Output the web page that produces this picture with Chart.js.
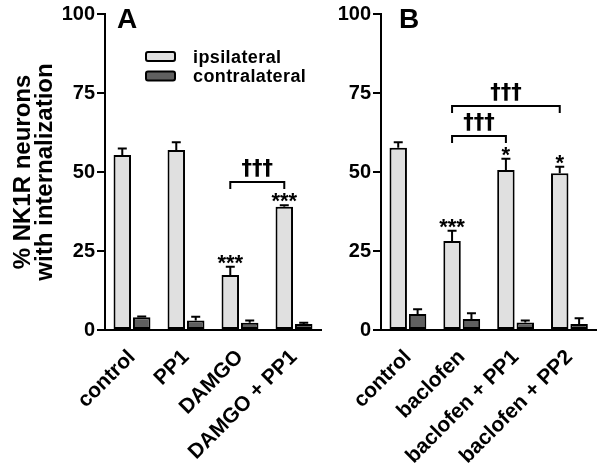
<!DOCTYPE html>
<html>
<head>
<meta charset="utf-8">
<script src="https://cdn.jsdelivr.net/npm/chart.js@4"></script>
<style>
body { margin: 0; background: #fff; width: 603px; height: 466px; position: relative; overflow: hidden; }
#wrapA { position: absolute; left: 0; top: 0; width: 330px; height: 466px; }
#wrapB { position: absolute; left: 330px; top: 0; width: 273px; height: 466px; }
</style>
</head>
<body>
<div id="wrapA"><canvas id="chartA"></canvas></div>
<div id="wrapB"><canvas id="chartB"></canvas></div>
<script>
// panel A
const labelsA = ["control", "PP1", "DAMGO", "DAMGO + PP1"];
const ipsiA = [55.4, 57.0, 17.4, 39.0];
const ipsiErrA = [2.0, 2.4, 2.6, 0.5];
const contraA = [4.0, 3.0, 2.3, 1.9];
const contraErrA = [0.3, 1.2, 0.7, 0.4];
const starsA = ["", "", "***", "***"];

// panel B
const labelsB = ["control", "baclofen", "baclofen + PP1", "baclofen + PP2"];
const ipsiB = [57.7, 28.2, 50.6, 49.6];
const ipsiErrB = [1.7, 3.2, 3.6, 2.1];
const contraB = [5.1, 3.5, 2.4, 1.9];
const contraErrB = [1.5, 1.8, 0.6, 1.8];
const starsB = ["", "***", "*", "*"];

// comparison brackets: [from group, to group, height in %]
const bracketsA = [[2, 3, 46.8]];
const bracketsB = [[1, 2, 61.4], [1, 3, 70.9]];
const daggers = "\u2020\u2020\u2020";

const seriesNames = ["ipsilateral", "contralateral"];
const yTicks = [0, 25, 50, 75, 100];

const FONT = "'Liberation Sans', Arial, sans-serif";
const lightGrey = "#e0e0e0";
const darkGrey = "#606060";

const annotate = {
  id: "annotate",
  afterDatasetsDraw(chart, args, opts) {
    const ctx = chart.ctx;
    const y = chart.scales.y;
    ctx.save();
    ctx.strokeStyle = "#000";
    ctx.fillStyle = "#000";
    ctx.lineWidth = 2;

    // error bars (upper only)
    chart.data.datasets.forEach((ds, di) => {
      chart.getDatasetMeta(di).data.forEach((bar, i) => {
        const top = y.getPixelForValue(ds.data[i] + ds.errors[i]);
        ctx.beginPath();
        ctx.moveTo(bar.x, bar.y);
        ctx.lineTo(bar.x, top);
        ctx.moveTo(bar.x - 4.5, top);
        ctx.lineTo(bar.x + 4.5, top);
        ctx.stroke();
      });
    });

    // significance stars over ipsilateral bars
    const ipsi = chart.data.datasets[0];
    const ipsiBars = chart.getDatasetMeta(0).data;
    ctx.font = "bold 22px " + FONT;
    ctx.textAlign = "center";
    ctx.textBaseline = "alphabetic";
    opts.stars.forEach((s, i) => {
      if (!s) return;
      const top = y.getPixelForValue(ipsi.data[i] + ipsi.errors[i]);
      const m = ctx.measureText(s);
      ctx.fillText(s, ipsiBars[i].x, top - 3 - m.actualBoundingBoxDescent);
    });

    // brackets
    ctx.font = "bold 21px 'DejaVu Sans', sans-serif";
    opts.brackets.forEach(([a, b, h]) => {
      const x1 = ipsiBars[a].x, x2 = ipsiBars[b].x;
      const yb = y.getPixelForValue(h);
      ctx.beginPath();
      ctx.moveTo(x1, yb + 7);
      ctx.lineTo(x1, yb);
      ctx.lineTo(x2, yb);
      ctx.lineTo(x2, yb + 7);
      ctx.stroke();
      const m = ctx.measureText(daggers);
      ctx.fillText(daggers, (x1 + x2) / 2, yb - 5 - m.actualBoundingBoxDescent);
    });

    // panel letter
    ctx.font = "bold 28px " + FONT;
    ctx.textAlign = "left";
    ctx.fillText(opts.letter, opts.letterX, 28);

    // legend
    if (opts.legend) {
      const colors = [lightGrey, darkGrey];
      ctx.font = "bold 18px " + FONT;
      if ("letterSpacing" in ctx) ctx.letterSpacing = "0.4px";
      seriesNames.forEach((name, k) => {
        const by = 52 + k * 19.5;
        ctx.fillStyle = colors[k];
        ctx.beginPath();
        ctx.roundRect(146, by, 29, 9, 2);
        ctx.fill();
        ctx.stroke();
        ctx.fillStyle = "#000";
        ctx.fillText(name, 193, by + 10.5);
      });
    }
    ctx.restore();
  }
};

function makeChart(id, labels, ipsi, ipsiErr, contra, contraErr, opts) {
  return new Chart(document.getElementById(id), {
    type: "bar",
    data: {
      labels: labels,
      datasets: [
        { label: seriesNames[0], data: ipsi, errors: ipsiErr, backgroundColor: lightGrey },
        { label: seriesNames[1], data: contra, errors: contraErr, backgroundColor: darkGrey }
      ]
    },
    options: {
      responsive: true,
      maintainAspectRatio: false,
      animation: false,
      layout: { padding: { left: 0, right: opts.padRight, top: 14, bottom: 0 } },
      datasets: {
        bar: {
          borderColor: "#000",
          borderWidth: 2,
          borderSkipped: false,
          categoryPercentage: 0.72,
          barPercentage: 0.9
        }
      },
      scales: {
        x: {
          grid: { display: false, drawTicks: false },
          border: { color: "#000", width: 2 },
          ticks: {
            color: "#000",
            font: { family: FONT, size: 21, weight: "bold" },
            minRotation: 45,
            maxRotation: 45,
            autoSkip: false,
            padding: 15
          },
          afterFit: s => { s.height = 136; }
        },
        y: {
          min: 0,
          max: 100,
          afterBuildTicks: s => { s.ticks = yTicks.map(v => ({ value: v })); },
          grid: { drawOnChartArea: false, drawTicks: true, tickLength: 8, color: "#000", lineWidth: 2 },
          border: { color: "#000", width: 2 },
          ticks: {
            color: "#000",
            font: { family: FONT, size: 20, weight: "bold" },
            padding: 2
          },
          title: {
            display: opts.yTitle,
            text: ["% NK1R neurons", "with internalization"],
            color: "#000",
            font: { family: FONT, size: 24, weight: "bold", lineHeight: 0.9 },
            padding: { top: 13, bottom: 0 }
          },
          afterFit: s => { s.width = opts.axisWidth; }
        }
      },
      plugins: {
        legend: { display: false },
        tooltip: { enabled: false },
        annotate: opts
      }
    },
    plugins: [annotate]
  });
}

makeChart("chartA", labelsA, ipsiA, ipsiErrA, contraA, contraErrA, {
  stars: starsA, brackets: bracketsA, letter: "A", letterX: 117,
  legend: true, yTitle: true, axisWidth: 105, padRight: 9
});
makeChart("chartB", labelsB, ipsiB, ipsiErrB, contraB, contraErrB, {
  stars: starsB, brackets: bracketsB, letter: "B", letterX: 69,
  legend: false, yTitle: false, axisWidth: 51, padRight: 6
});
</script>
</body>
</html>
